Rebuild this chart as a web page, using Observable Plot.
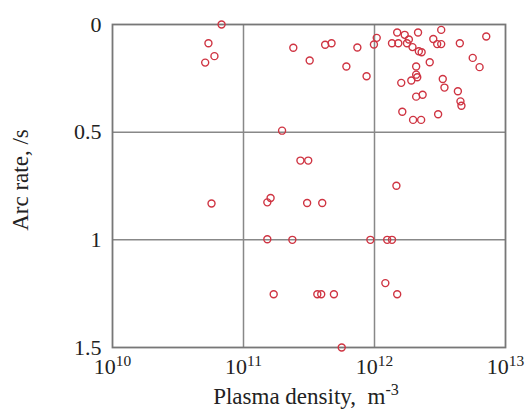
<!DOCTYPE html>
<html><head><meta charset="utf-8">
<script src="https://cdn.jsdelivr.net/npm/d3@7"></script>
<script src="https://cdn.jsdelivr.net/npm/@observablehq/plot@0.6"></script>
<style>body{margin:0;background:#fff}</style></head>
<body><div id="chart"></div>
<script>
const density = [6.8e10,5.4e10,6.0e10,5.1e10,2.4e11,3.2e11,4.2e11,4.7e11,6.1e11,7.4e11,8.7e11,9.9e11,1.04e12,1.36e12,1.49e12,1.52e12,1.70e12,1.77e12,1.83e12,1.95e12,2.15e12,2.18e12,2.29e12,2.08e12,2.64e12,2.81e12,3.01e12,3.23e12,3.23e12,4.48e12,7.13e12,5.62e12,6.34e12,2.08e12,2.12e12,1.91e12,1.60e12,3.32e12,3.42e12,4.33e12,4.53e12,4.61e12,2.33e12,2.08e12,1.63e12,3.06e12,1.97e12,2.27e12,1.97e11,5.7e10,1.52e11,1.61e11,1.52e11,2.72e11,3.12e11,3.06e11,3.99e11,1.47e12,2.36e11,9.3e11,1.25e12,1.36e12,1.21e12,1.70e11,3.66e11,3.92e11,4.90e11,1.49e12,5.62e11];
const rate = [0.00,0.087,0.147,0.177,0.108,0.167,0.094,0.087,0.195,0.107,0.240,0.093,0.062,0.087,0.037,0.087,0.048,0.087,0.070,0.105,0.037,0.124,0.129,0.195,0.175,0.067,0.091,0.091,0.025,0.087,0.056,0.155,0.198,0.233,0.245,0.260,0.271,0.253,0.293,0.310,0.357,0.377,0.326,0.335,0.405,0.417,0.443,0.443,0.493,0.831,0.826,0.806,0.997,0.632,0.632,0.829,0.829,0.749,1.000,1.000,1.000,1.000,1.201,1.253,1.253,1.253,1.253,1.253,1.500];
const xTicks = [1e10, 1e11, 1e12, 1e13];
const yTicks = [0, 0.5, 1, 1.5];
const yTickLabels = ["0", "0.5", "1", "1.5"];
const xLabel = "Plasma density,  m";
const xLabelSup = "-3";
const yLabel = "Arc rate, /s";

const data = density.map((d, i) => ({density: d, rate: rate[i]}));
const font = "'Liberation Serif', 'Times New Roman', serif";

const plot = Plot.plot({
  width: 527, height: 411,
  marginLeft: 112, marginRight: 22, marginTop: 24, marginBottom: 64,
  style: {fontFamily: font, fontSize: "22px", color: "#222", background: "#fff"},
  x: {type: "log", domain: [1e10, 1e13]},
  y: {domain: [0, 1.5], reverse: true},
  marks: [
    Plot.ruleX(xTicks.slice(1, -1), {stroke: "#888", strokeWidth: 1.5}),
    Plot.ruleY(yTicks.slice(1, -1), {stroke: "#888", strokeWidth: 1.5}),
    Plot.frame({stroke: "#777", strokeWidth: 1.8}),
    Plot.axisX({ticks: xTicks, tickSize: 0, tickPadding: 11, tickFormat: d => String(Math.round(Math.log10(d))), label: null}),
    Plot.axisY({ticks: yTicks, tickSize: 0, tickPadding: 11, tickFormat: d => yTickLabels[yTicks.indexOf(d)], label: null}),
    Plot.dot(data, {x: "density", y: "rate", r: 3.5, stroke: "#cf3442", strokeWidth: 1.4})
  ]
});

const svg = d3.select(plot);
svg.selectAll('g[aria-label="x-axis tick label"] text').each(function() {
  const e = this.textContent;
  const t = d3.select(this);
  t.text("");
  t.append("tspan").text("10");
  t.append("tspan").attr("dy", "-0.55em").attr("font-size", "0.7em").text(e);
});
const xl = svg.append("text")
  .attr("x", 306).attr("y", 404)
  .attr("text-anchor", "middle").attr("fill", "#222")
  .style("font-family", font).style("font-size", "23px");
xl.append("tspan").text(xLabel);
xl.append("tspan").attr("dy", "-0.55em").attr("font-size", "0.7em").text(xLabelSup);
svg.append("text")
  .attr("transform", "translate(28,180) rotate(-90)")
  .attr("text-anchor", "middle").attr("fill", "#222")
  .style("font-family", font).style("font-size", "23px")
  .text(yLabel);

document.getElementById("chart").appendChild(plot);
</script>
</body></html>
